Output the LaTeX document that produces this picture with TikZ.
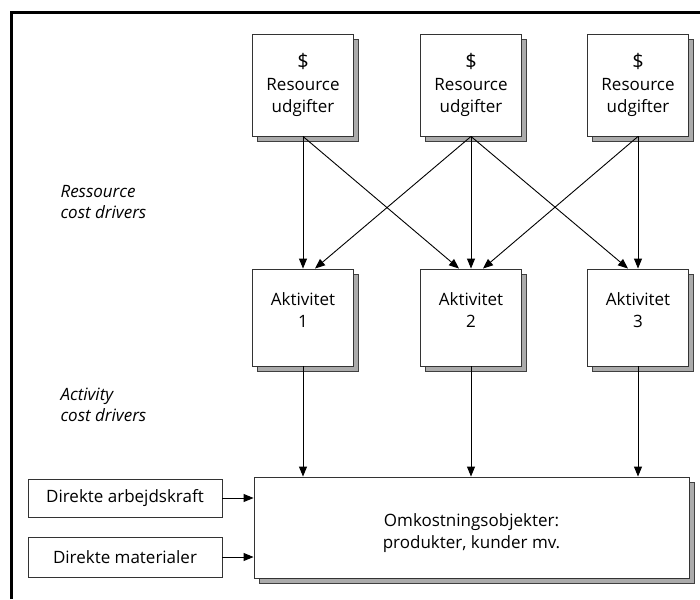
\documentclass[tikz,border=0pt]{standalone}
\usepackage{fontspec}
\setmainfont{Open Sans}
\usetikzlibrary{arrows.meta,shadows}

\begin{document}
\begin{tikzpicture}[x=1pt,y=-1pt,
        txt/.style={font=\fontsize{17}{22}\selectfont, align=center},
        box/.style={draw=black!80, fill=white, inner sep=0pt, line width=0.9pt,
            drop shadow={shadow xshift=5pt, shadow yshift=-5pt, fill=black!33, draw=black!75, opacity=1}},
        sidebox/.style={txt, draw=black!80, fill=white, line width=0.9pt, minimum width=194pt, inner sep=0pt},
        driver/.style={anchor=west, align=left, font=\fontsize{17}{20.5}\selectfont\itshape},
        arr/.style={-{Triangle[length=10pt,width=8pt]}, black, line width=0.9pt}]

    \useasboundingbox (0,0) rectangle (700,599);

    % Frame
    \draw[line width=3pt] (11,599) -- (11,13) -- (700,13);

    % --- ROW 0 (Resource udgifter) ---
    \foreach \i/\x in {1/303, 2/471, 3/638}
        \node[box, txt, minimum width=101pt, minimum height=102pt] (r\i) at (\x,85) {{\fontsize{20}{22}\selectfont\$}\\Resource\\udgifter};

    % --- ROW 1 (Aktiviteter) ---
    \foreach \i/\x in {1/303, 2/471, 3/638} {
        \node[box, minimum width=101pt, minimum height=97pt] (a\i) at (\x,317.5) {};
        \node[txt] (a\i txt) at ([yshift=7pt]a\i.center) {Aktivitet\\\i};
    }

    % --- ROW 2 (Omkostningsobjekter) ---
    \node[box, minimum width=435pt, minimum height=101pt] (omk) at (471.5,527.5) {};
    \node[txt] (omktxt) at ([yshift=-6pt]omk.center) {Omkostningsobjekter:\\produkter, kunder mv.};
    \node[sidebox, minimum height=38pt] (arb) at (125,498) {Direkte arbejdskraft};
    \node[sidebox, minimum height=40pt] (mat) at (125,557) {Direkte materialer};

    % Cost driver labels
    \node[driver] (rcd) at (57,202) {Ressource\\cost drivers};
    \node[driver] (acd) at (57,405) {Activity\\cost drivers};

    % Resource drivers
    \draw[arr] (r1.south) -- (a1.north);
    \draw[arr] (r1.south) -- ([xshift=-12pt]a2.north);
    \draw[arr] (r2.south) -- ([xshift=12pt]a1.north);
    \draw[arr] (r2.south) -- (a2.north);
    \draw[arr] (r2.south) -- ([xshift=-10pt]a3.north);
    \draw[arr] (r3.south) -- ([xshift=12pt]a2.north);
    \draw[arr] (r3.south) -- (a3.north);

    % Activity drivers
    \foreach \i in {1,2,3} \draw[arr] (a\i.south) -- (a\i.south |- omk.north);

    % Direct costs
    \draw[arr] (arb.east) -- (arb.east -| omk.west);
    \draw[arr] (mat.east) -- (mat.east -| omk.west);
\end{tikzpicture}
\end{document}
